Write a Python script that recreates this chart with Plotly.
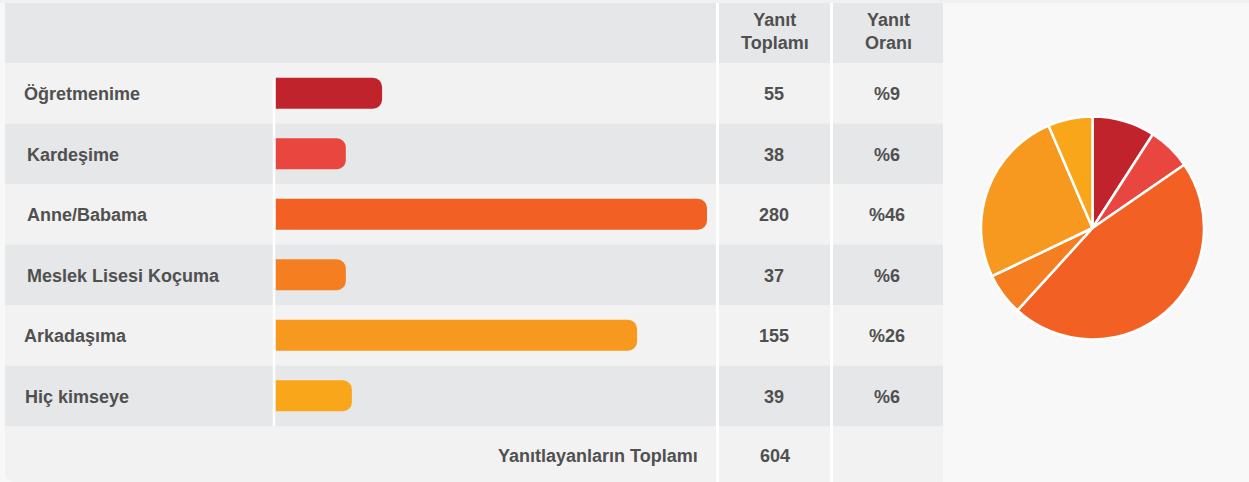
import plotly.graph_objects as go

# ---------------- data ----------------
categories = ["Öğretmenime", "Kardeşime", "Anne/Babama", "Meslek Lisesi Koçuma", "Arkadaşıma", "Hiç kimseye"]
counts = [55, 38, 280, 37, 155, 39]
# bar lengths as drawn in the reference (percent of the longest bar; not proportional to counts)
bar_length_pct = [24.7, 16.3, 100, 16.3, 83.8, 17.7]
colors = ["#c1232c", "#ea4640", "#f26123", "#f47e20", "#f8991f", "#faa61a"]
header_total = "Yanıt<br>Toplamı"
header_rate = "Yanıt<br>Oranı"
footer_label = "Yanıtlayanların Toplamı"

total = sum(counts)
pct_labels = ["%" + str(round(c / total * 100)) for c in counts]

# ---------------- layout helpers (pixel -> paper) ----------------
W, H = 1249, 482
def px(x):
    return x / W
def py(y):
    return 1 - y / H

TXT = "#505050"
FONT = "Liberation Sans, Arial, sans-serif"
ROW_TOP, ROW_BOT = 63, 426
n = len(categories)
row_h = (ROW_BOT - ROW_TOP) / n
TL, TR = 5, 943

fig = go.Figure()

fig.add_trace(go.Bar(
    y=categories, x=bar_length_pct, orientation="h",
    marker=dict(color=colors, line=dict(width=0), cornerradius=9),
    width=0.51, hoverinfo="skip", showlegend=False,
    xaxis="x", yaxis="y",
))

fig.add_trace(go.Pie(
    labels=categories, values=counts, sort=False, direction="clockwise", rotation=0,
    marker=dict(colors=colors, line=dict(color="white", width=2.5)),
    textinfo="none", hoverinfo="skip", showlegend=False,
    domain=dict(x=[px(981), px(1204)], y=[py(340), py(116)]),
))

shapes = []
# top strip
shapes.append(dict(type="rect", xref="paper", yref="paper", x0=0, x1=1, y0=py(3), y1=1,
                   fillcolor="#f1f1f1", line=dict(width=0), layer="below"))
# header
shapes.append(dict(type="rect", xref="paper", yref="paper", x0=px(TL), x1=px(TR), y0=py(ROW_TOP), y1=py(3),
                   fillcolor="#e6e7e9", line=dict(width=0), layer="below"))
# rows
for i in range(n):
    y0 = ROW_TOP + i * row_h
    shapes.append(dict(type="rect", xref="paper", yref="paper", x0=px(TL), x1=px(TR),
                       y0=py(y0 + row_h), y1=py(y0),
                       fillcolor="#f2f2f2" if i % 2 == 0 else "#e6e7e9",
                       line=dict(width=0), layer="below"))
# footer with rounded bottom-left corner
r = 9
fx0, fx1, fy0, fy1 = px(TL), px(TR), py(ROW_BOT), py(H)
path = (f"M {fx0},{fy0} L {fx1},{fy0} L {fx1},{fy1} L {px(TL + r)},{fy1} "
        f"Q {fx0},{fy1} {fx0},{py(H - r)} Z")
shapes.append(dict(type="path", xref="paper", yref="paper", path=path,
                   fillcolor="#f2f2f2", line=dict(width=0), layer="below"))
# column separators
for xs in (717.5, 831.5):
    shapes.append(dict(type="line", xref="paper", yref="paper", x0=px(xs), x1=px(xs), y0=py(3), y1=0,
                       line=dict(color="white", width=3), layer="below"))
# bar zero line
shapes.append(dict(type="line", xref="paper", yref="paper", x0=px(274), x1=px(274), y0=py(78), y1=py(ROW_BOT),
                   line=dict(color="white", width=2.5), layer="above"))

ann = []
def add_text(text, x, y, anchor="center"):
    ann.append(dict(text=text, x=px(x), y=py(y), xref="paper", yref="paper", showarrow=False,
                    xanchor=anchor, yanchor="middle",
                    font=dict(family=FONT, size=18, color=TXT, weight="bold")))

add_text(header_total, 775, 32)
add_text(header_rate, 888, 32)
label_x = [22, 25, 25, 25, 22, 23]
for i, cat in enumerate(categories):
    yc = ROW_TOP + i * row_h + row_h / 2 + 1
    add_text(cat, label_x[i], yc, "left")
    add_text(str(counts[i]), 774, yc)
    add_text(pct_labels[i], 887, yc)
add_text(footer_label, 700, 456, "right")
add_text(str(total), 775, 456)

fig.update_layout(
    width=W, height=H, margin=dict(l=0, r=0, t=0, b=0),
    paper_bgcolor="#f8f8f8", plot_bgcolor="rgba(0,0,0,0)",
    shapes=shapes, annotations=ann,
    xaxis=dict(domain=[px(275.5), px(716)], range=[0, 100 * (716 - 275.5) / (707 - 275.5)],
               visible=False, fixedrange=True),
    yaxis=dict(domain=[py(ROW_BOT), py(ROW_TOP)], range=[n - 0.5, -0.5], type="category",
               categoryorder="array", categoryarray=categories, visible=False, fixedrange=True),
    showlegend=False,
)

fig.write_html(
    "out.html",
    config={"displayModeBar": False},
    post_script="document.body.style.margin='0';document.body.style.overflow='hidden';",
)
